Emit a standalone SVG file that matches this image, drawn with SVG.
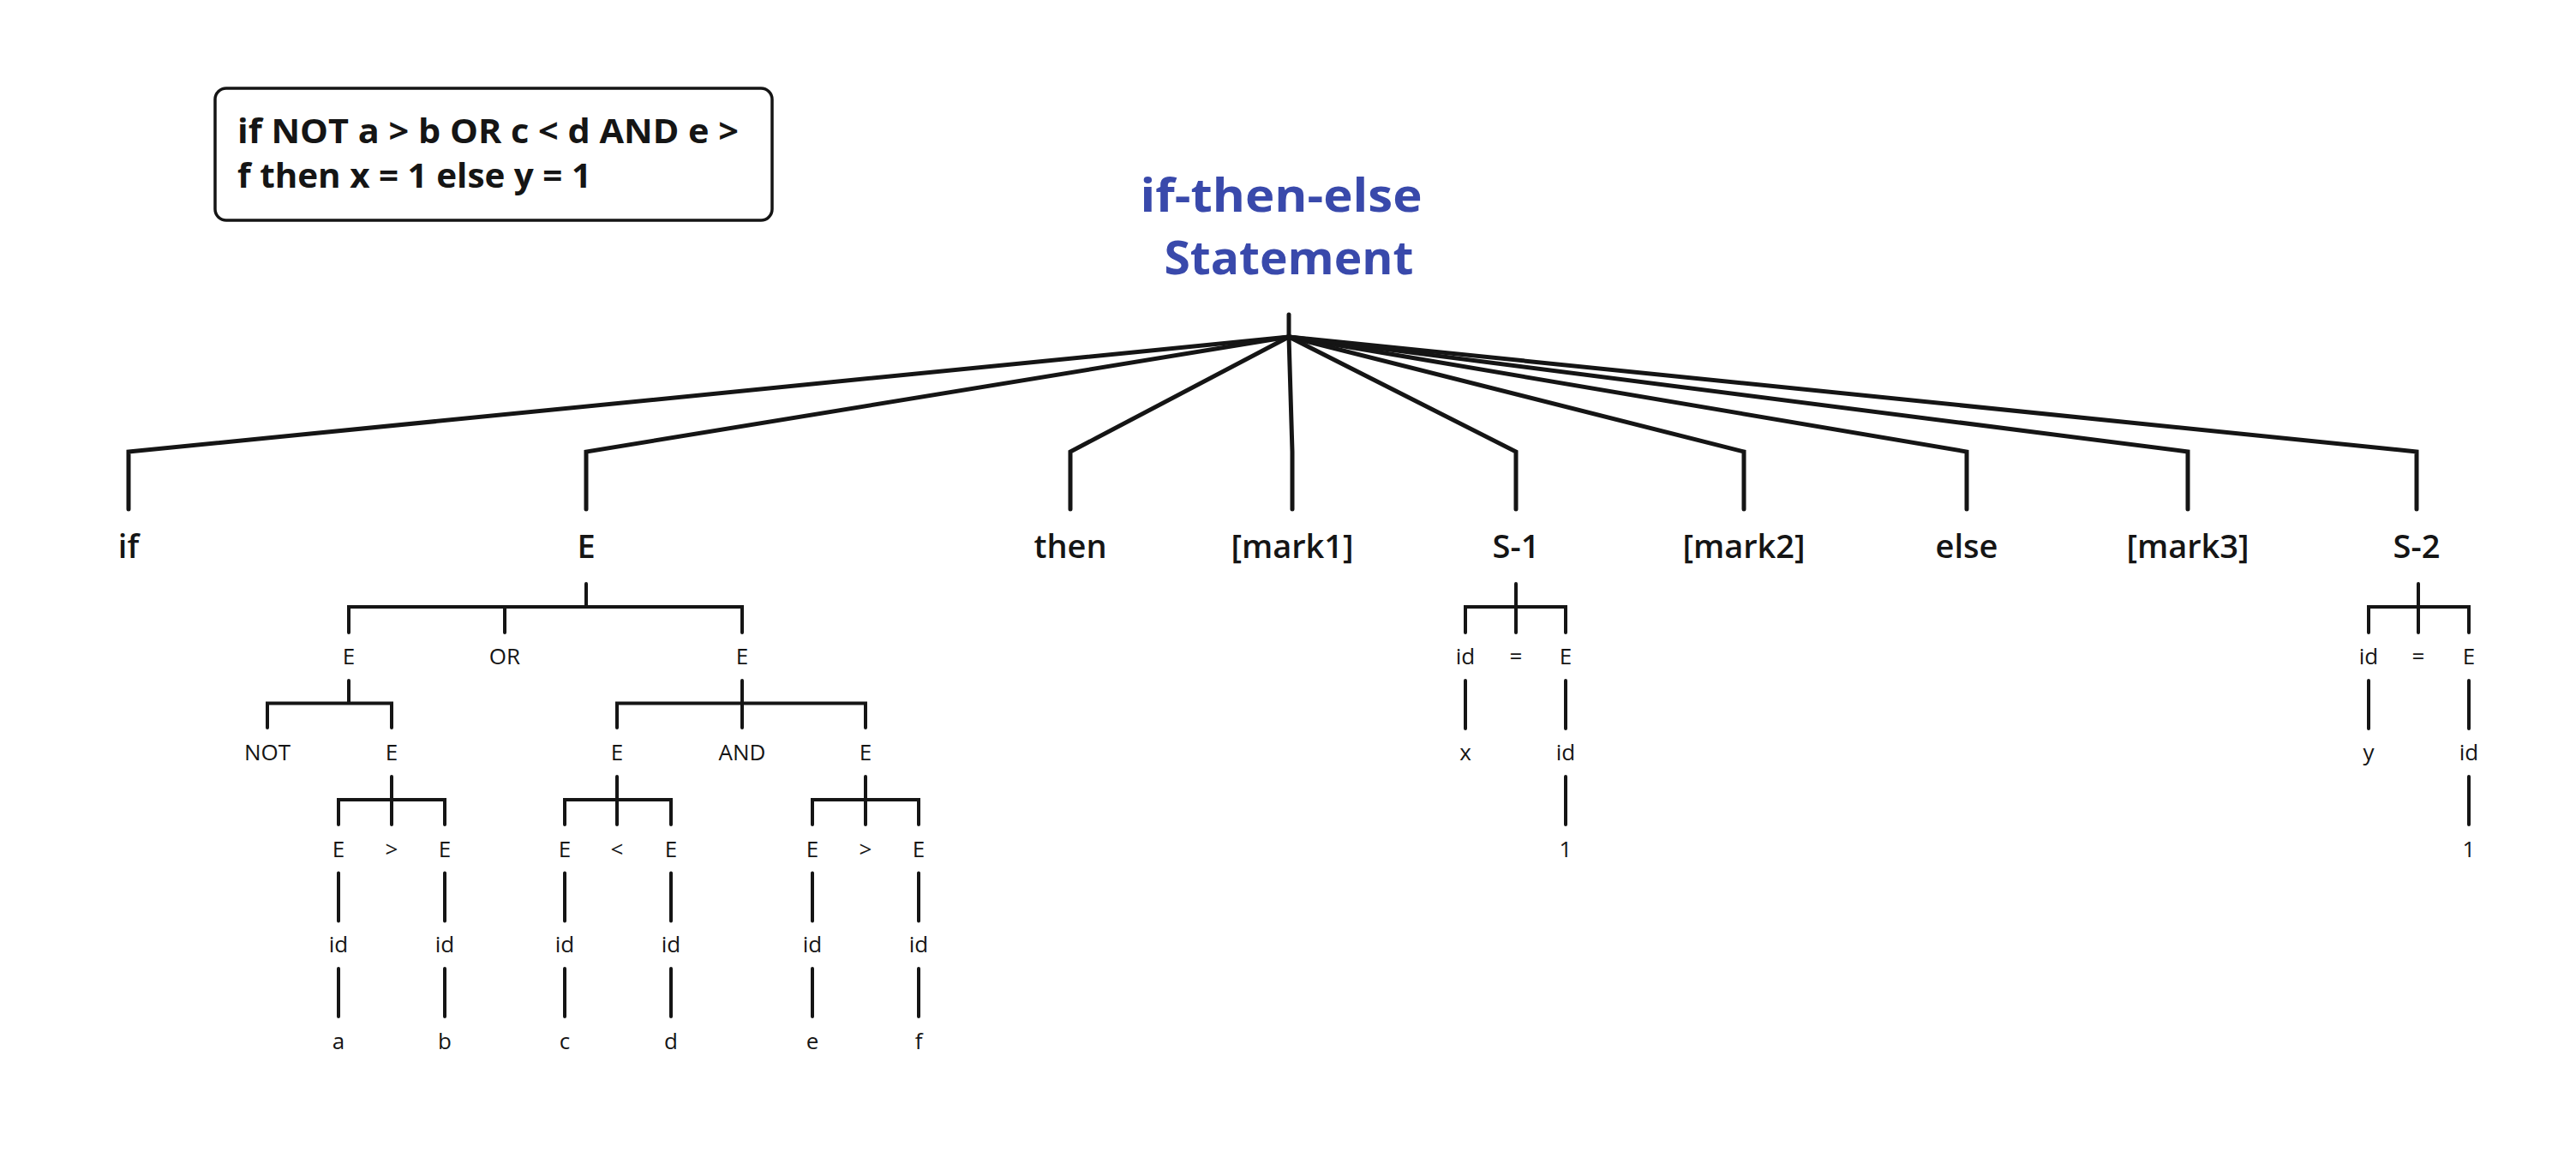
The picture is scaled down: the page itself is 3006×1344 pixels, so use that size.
<svg xmlns="http://www.w3.org/2000/svg" width="3006" height="1344" viewBox="0 0 3006 1344">
<style>
.lbl{font-family:"Open Sans","Liberation Sans",sans-serif;fill:#151515;text-anchor:middle}
.big{font-size:38px;font-weight:600}
.sm{font-size:26px;font-weight:500}
.title{font-family:"Open Sans","Liberation Sans",sans-serif;font-weight:700;font-size:54px;fill:#3949AB;text-anchor:middle}
.box{fill:#fff;stroke:#151515;stroke-width:3.5}
.boxt{font-family:"Open Sans","Liberation Sans",sans-serif;font-weight:700;font-size:39px;fill:#151515}
.c1{fill:none;stroke:#151515;stroke-width:5;stroke-linecap:round;stroke-linejoin:miter}
.c2{fill:none;stroke:#151515;stroke-width:4;stroke-linecap:round;stroke-linejoin:miter}
</style>
<rect width="3006" height="1344" fill="#fff"/>
<g id="source">
<rect class="box" x="251" y="103" width="650" height="154" rx="13"/>
<text class="boxt" x="277" y="166.5" textLength="585" lengthAdjust="spacingAndGlyphs">if NOT a &gt; b OR c &lt; d AND e &gt;</text>
<text class="boxt" x="277" y="218.5" textLength="413" lengthAdjust="spacingAndGlyphs">f then x = 1 else y = 1</text>
</g>
<g id="root">
<text class="title" x="1495" y="246.5" textLength="329" lengthAdjust="spacingAndGlyphs">if-then-else</text>
<text class="title" x="1504" y="320" textLength="291" lengthAdjust="spacingAndGlyphs">Statement</text>
</g>
<g id="connectors">
<path class="c1" d="M1504,367 L1504,393"/>
<path class="c1" d="M1504,393 L150,527 L150,594"/>
<path class="c1" d="M1504,393 L684,527 L684,594"/>
<path class="c1" d="M1504,393 L1249,527 L1249,594"/>
<path class="c1" d="M1504,393 L1508,527 L1508,594"/>
<path class="c1" d="M1504,393 L1769,527 L1769,594"/>
<path class="c1" d="M1504,393 L2035,527 L2035,594"/>
<path class="c1" d="M1504,393 L2295,527 L2295,594"/>
<path class="c1" d="M1504,393 L2553,527 L2553,594"/>
<path class="c1" d="M1504,393 L2820,527 L2820,594"/>
<path class="c2" d="M684,681 L684,708 M407,738 L407,708 L866,708 L866,738 M589,708 L589,738"/>
<path class="c2" d="M407,794 L407,820.5 M312,849 L312,820.5 L457,820.5 L457,849"/>
<path class="c2" d="M866,794 L866,849 M720,849 L720,820.5 L1010,820.5 L1010,849"/>
<path class="c2" d="M457,906 L457,962 M395,962 L395,933 L519,933 L519,962"/>
<path class="c2" d="M720,906 L720,962 M659,962 L659,933 L783,933 L783,962"/>
<path class="c2" d="M1010,906 L1010,962 M948,962 L948,933 L1072,933 L1072,962"/>
<path class="c2" d="M395,1018.5 L395,1074.5 M519,1018.5 L519,1074.5 M659,1018.5 L659,1074.5 M783,1018.5 L783,1074.5 M948,1018.5 L948,1074.5 M1072,1018.5 L1072,1074.5"/>
<path class="c2" d="M395,1130 L395,1186 M519,1130 L519,1186 M659,1130 L659,1186 M783,1130 L783,1186 M948,1130 L948,1186 M1072,1130 L1072,1186"/>
<path class="c2" d="M1769,681 L1769,738 M1710,738 L1710,708 L1827,708 L1827,738"/>
<path class="c2" d="M1710,794 L1710,850 M1827,794 L1827,850 M1827,906 L1827,962"/>
<path class="c2" d="M2822,681 L2822,738 M2764,738 L2764,708 L2881,708 L2881,738"/>
<path class="c2" d="M2764,794 L2764,850 M2881,794 L2881,850 M2881,906 L2881,962"/>
</g>
<g id="n-if"><text class="lbl big" x="150" y="651">if</text></g>
<g id="n-E"><text class="lbl big" x="684" y="651">E</text></g>
<g id="n-then"><text class="lbl big" x="1249" y="651">then</text></g>
<g id="n-mark1"><text class="lbl big" x="1508" y="651">[mark1]</text></g>
<g id="n-S1"><text class="lbl big" x="1769" y="651">S-1</text></g>
<g id="n-mark2"><text class="lbl big" x="2035" y="651">[mark2]</text></g>
<g id="n-else"><text class="lbl big" x="2295" y="651">else</text></g>
<g id="n-mark3"><text class="lbl big" x="2553" y="651">[mark3]</text></g>
<g id="n-S2"><text class="lbl big" x="2820" y="651">S-2</text></g>
<g id="n-E1"><text class="lbl sm" x="407" y="775">E</text></g>
<g id="n-OR"><text class="lbl sm" x="589" y="775">OR</text></g>
<g id="n-E2"><text class="lbl sm" x="866" y="775">E</text></g>
<g id="n-NOT"><text class="lbl sm" x="312" y="887">NOT</text></g>
<g id="n-E11"><text class="lbl sm" x="457" y="887">E</text></g>
<g id="n-E21"><text class="lbl sm" x="720" y="887">E</text></g>
<g id="n-AND"><text class="lbl sm" x="866" y="887">AND</text></g>
<g id="n-E22"><text class="lbl sm" x="1010" y="887">E</text></g>
<g id="n-Ea"><text class="lbl sm" x="395" y="999.5">E</text></g>
<g id="n-gt1"><text class="lbl sm" x="457" y="999.5">&gt;</text></g>
<g id="n-Eb"><text class="lbl sm" x="519" y="999.5">E</text></g>
<g id="n-Ec"><text class="lbl sm" x="659" y="999.5">E</text></g>
<g id="n-lt"><text class="lbl sm" x="720" y="999.5">&lt;</text></g>
<g id="n-Ed"><text class="lbl sm" x="783" y="999.5">E</text></g>
<g id="n-Ee"><text class="lbl sm" x="948" y="999.5">E</text></g>
<g id="n-gt2"><text class="lbl sm" x="1010" y="999.5">&gt;</text></g>
<g id="n-Ef"><text class="lbl sm" x="1072" y="999.5">E</text></g>
<g id="n-ida"><text class="lbl sm" x="395" y="1111">id</text></g>
<g id="n-idb"><text class="lbl sm" x="519" y="1111">id</text></g>
<g id="n-idc"><text class="lbl sm" x="659" y="1111">id</text></g>
<g id="n-idd"><text class="lbl sm" x="783" y="1111">id</text></g>
<g id="n-ide"><text class="lbl sm" x="948" y="1111">id</text></g>
<g id="n-idf"><text class="lbl sm" x="1072" y="1111">id</text></g>
<g id="n-a"><text class="lbl sm" x="395" y="1224">a</text></g>
<g id="n-b"><text class="lbl sm" x="519" y="1224">b</text></g>
<g id="n-c"><text class="lbl sm" x="659" y="1224">c</text></g>
<g id="n-d"><text class="lbl sm" x="783" y="1224">d</text></g>
<g id="n-e"><text class="lbl sm" x="948" y="1224">e</text></g>
<g id="n-f"><text class="lbl sm" x="1072" y="1224">f</text></g>
<g id="n-s1id"><text class="lbl sm" x="1710" y="775">id</text></g>
<g id="n-s1eq"><text class="lbl sm" x="1769" y="775">=</text></g>
<g id="n-s1E"><text class="lbl sm" x="1827" y="775">E</text></g>
<g id="n-x"><text class="lbl sm" x="1710" y="887">x</text></g>
<g id="n-s1id2"><text class="lbl sm" x="1827" y="887">id</text></g>
<g id="n-s1one"><text class="lbl sm" x="1827" y="999.5">1</text></g>
<g id="n-s2id"><text class="lbl sm" x="2764" y="775">id</text></g>
<g id="n-s2eq"><text class="lbl sm" x="2822" y="775">=</text></g>
<g id="n-s2E"><text class="lbl sm" x="2881" y="775">E</text></g>
<g id="n-y"><text class="lbl sm" x="2764" y="887">y</text></g>
<g id="n-s2id2"><text class="lbl sm" x="2881" y="887">id</text></g>
<g id="n-s2one"><text class="lbl sm" x="2881" y="999.5">1</text></g>
</svg>
